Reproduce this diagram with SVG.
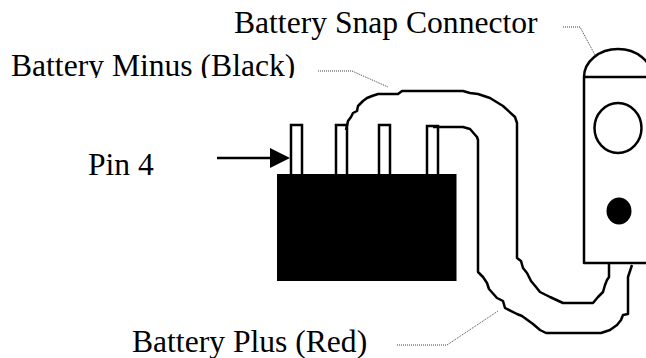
<svg xmlns="http://www.w3.org/2000/svg" width="646" height="358" viewBox="0 0 646 358">
<style>
text{font-family:"Liberation Serif","Times New Roman",serif;font-size:31.600px;fill:#000}
.w{fill:none;stroke:#000;stroke-width:2.500;stroke-linejoin:round}
.l{fill:none;stroke:#000;stroke-width:1;stroke-dasharray:1 1;opacity:.75}
.p{fill:#fff;stroke:#000;stroke-width:2.500}
</style>
<defs><clipPath id="c"><rect x="0" y="40" width="320" height="38"/></clipPath></defs>
<rect width="646" height="358" fill="#fff"/>
<g id="pins">
<rect class="p" x="291" y="125" width="11" height="52"/>
<rect class="p" x="336" y="125" width="11" height="52"/>
<rect class="p" x="379" y="125" width="11" height="52"/>
<rect class="p" x="427" y="126" width="11" height="51"/>
</g>
<g id="block"><rect x="277" y="174" width="179.500" height="107"/></g>
<g id="snap">
<path class="w" d="M584 77A34 28 0 0 1 652 77M584 77H646M584 77V263H646"/>
<ellipse class="w" cx="618" cy="128" rx="23.500" ry="25"/>
<ellipse cx="619" cy="211" rx="12.500" ry="13.500"/>
</g>
<g id="connectors">
<path class="w" d="M346 130L348 121L351 117L353 113L357 111L358 106L363 101L367 98L372 96L378 94L398 94L402 91L463 91L470 93L478 94L490 98L503 106L515 117L517 123V258L521 261L523 268L527 273L531 281L536 287L540 292L550 297L563 303H593L598 297L603 292L605 285L607 280L609 277V263"/>
<path class="w" d="M433 127H463L470 129L477 137L478 140V272L483 277L487 283L489 289L497 298L503 301L505 308L517 314L522 316L533 324L540 330L546 333H601L610 330L617 325L621 320L623 315L628 314V277L632 265"/>
<path d="M217 158H271" fill="none" stroke="#000" stroke-width="2.500"/>
<path d="M270 148L290 158L270 168Z"/>
<path class="l" d="M563 27H580L595 55"/>
<path class="l" d="M318 71H352L388 87"/>
<path class="l" d="M397 345H447L498 311"/>
</g>
<g id="labels">
<text x="234" y="33">Battery Snap Connector</text>
<text x="11" y="76" clip-path="url(#c)">Battery Minus (Black)</text>
<text x="88" y="175">Pin 4</text>
<text x="132" y="352">Battery Plus (Red)</text>
</g>
</svg>
